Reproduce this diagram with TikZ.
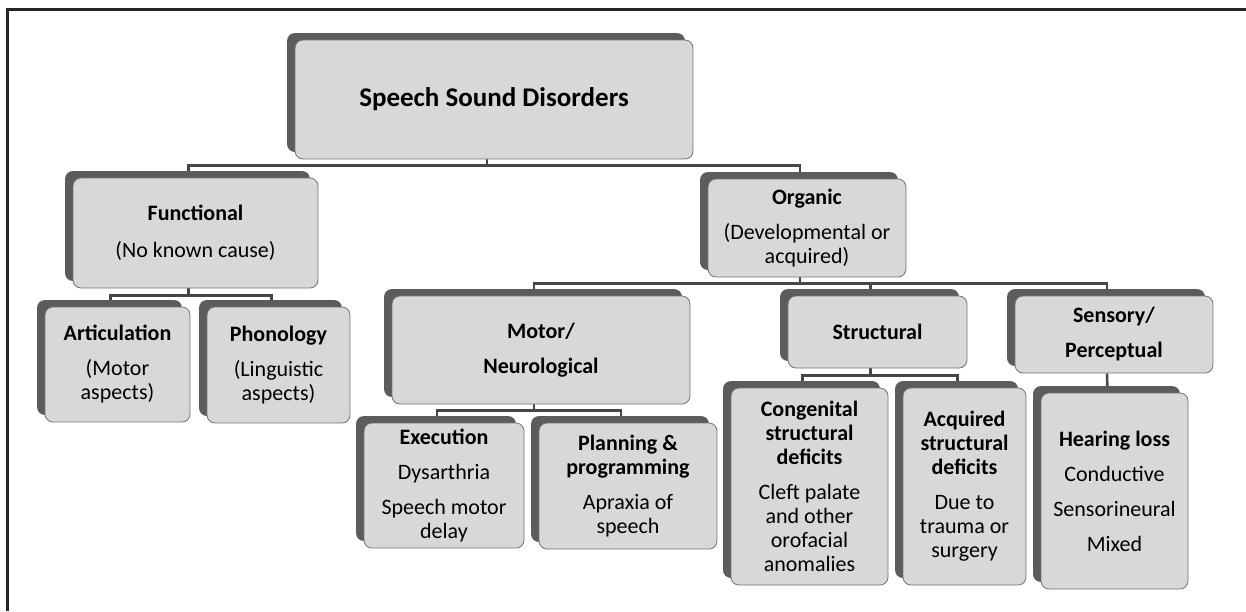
\documentclass[tikz,border=0pt]{standalone}
\usepackage{fontspec}
\setmainfont{Carlito}
\usetikzlibrary{shadows,backgrounds}
\definecolor{boxgray}{RGB}{216,216,218}
\definecolor{shadegray}{RGB}{92,92,94}
\definecolor{linegray}{RGB}{70,70,72}
\tikzset{
    sbox/.style={draw=black!55, line width=0.8pt, fill=boxgray, rounded corners=8pt,
        inner sep=0pt, align=center,
        general shadow={fill=shadegray, rounded corners=8pt, shadow xshift=-8pt, shadow yshift=7pt},
        font=\fontsize{22}{24}\selectfont},
    link/.style={draw=linegray, line width=2.5pt}
}
\newcommand{\gap}{\\[11pt]}
\begin{document}
\begin{tikzpicture}[x=1pt, y=-1pt]
    \useasboundingbox (0,0) rectangle (1246,611);
    \draw[line width=3pt, black!85] (7,611) -- (7,9) -- (1246,9);

    \node[sbox, minimum width=398pt, minimum height=119pt, font=\fontsize{27}{29}\selectfont\bfseries] (root) at (494,99.5) {Speech Sound Disorders};

    \node[sbox, minimum width=245pt, minimum height=110pt] (func) at (195.5,233) {\textbf{Functional}\\[13pt](No known cause)};
    \node[sbox, minimum width=145pt, minimum height=115pt] (artic) at (117.5,364.5) {\textbf{Articulation}\gap(Motor\\aspects)};
    \node[sbox, minimum width=143pt, minimum height=116pt] (phon) at (278.5,365) {\textbf{Phonology}\gap(Linguistic\\aspects)};

    \node[sbox, minimum width=198pt, minimum height=98pt] (org) at (807,228) {\textbf{Organic}\gap(Developmental or\\acquired)};
    \node[sbox, minimum width=298pt, minimum height=108pt] (motor) at (541,350) {\textbf{Motor/}\gap\textbf{Neurological}};
    \node[sbox, minimum width=179pt, minimum height=72pt] (struct) at (877.5,332) {\textbf{Structural}};
    \node[sbox, minimum width=198pt, minimum height=77pt] (sens) at (1114,334.5) {\textbf{Sensory/}\gap\textbf{Perceptual}};

    \node[sbox, minimum width=160pt, minimum height=125pt] (exec) at (444,485.5) {\textbf{Execution}\gap Dysarthria\gap Speech motor\\delay};
    \node[sbox, minimum width=178pt, minimum height=126pt] (plan) at (628,486) {\textbf{Planning \&}\\\textbf{programming}\gap Apraxia of\\speech};
    \node[sbox, minimum width=157pt, minimum height=197pt] (cong) at (809.5,486.5) {\textbf{Congenital}\\\textbf{structural}\\\textbf{deficits}\gap Cleft palate\\and other\\orofacial\\anomalies};
    \node[sbox, minimum width=123pt, minimum height=197pt] (acq) at (964.5,486.5) {\textbf{Acquired}\\\textbf{structural}\\\textbf{deficits}\gap Due to\\trauma or\\surgery};
    \node[sbox, minimum width=147pt, minimum height=196pt] (hear) at (1114.5,491) {\textbf{Hearing loss}\gap Conductive\gap Sensorineural\gap Mixed};

    \begin{pgfonlayer}{background}
        \draw[link] ([xshift=-7pt]root.south) -- ++(0,6) -| ([xshift=-7pt]func.north);
        \draw[link] ([xshift=-7pt]root.south) -- ++(0,6) -| ([xshift=-7pt]org.north);
        \draw[link] ([xshift=-7pt]func.south) -- ++(0,7) -| ([xshift=-7pt]artic.north);
        \draw[link] ([xshift=-7pt]func.south) -- ++(0,7) -| ([xshift=-7pt]phon.north);
        \draw[link] ([xshift=-7pt]org.south) -- ++(0,6) -| ([xshift=-7pt]motor.north);
        \draw[link] ([xshift=-7pt]org.south) -- ++(0,6) -| ([xshift=-7pt]struct.north);
        \draw[link] ([xshift=-7pt]org.south) -- ++(0,6) -| ([xshift=-7pt]sens.north);
        \draw[link] ([xshift=-7pt]motor.south) -- ++(0,6) -| ([xshift=-7pt]exec.north);
        \draw[link] ([xshift=-7pt]motor.south) -- ++(0,6) -| ([xshift=-7pt]plan.north);
        \draw[link] ([xshift=-7pt]struct.south) -- ++(0,7) -| ([xshift=-7pt]cong.north);
        \draw[link] ([xshift=-7pt]struct.south) -- ++(0,7) -| ([xshift=-7pt]acq.north);
        \draw[link] ([xshift=-7pt]sens.south) -- ([xshift=-7pt]hear.north);
    \end{pgfonlayer}
\end{tikzpicture}
\end{document}
